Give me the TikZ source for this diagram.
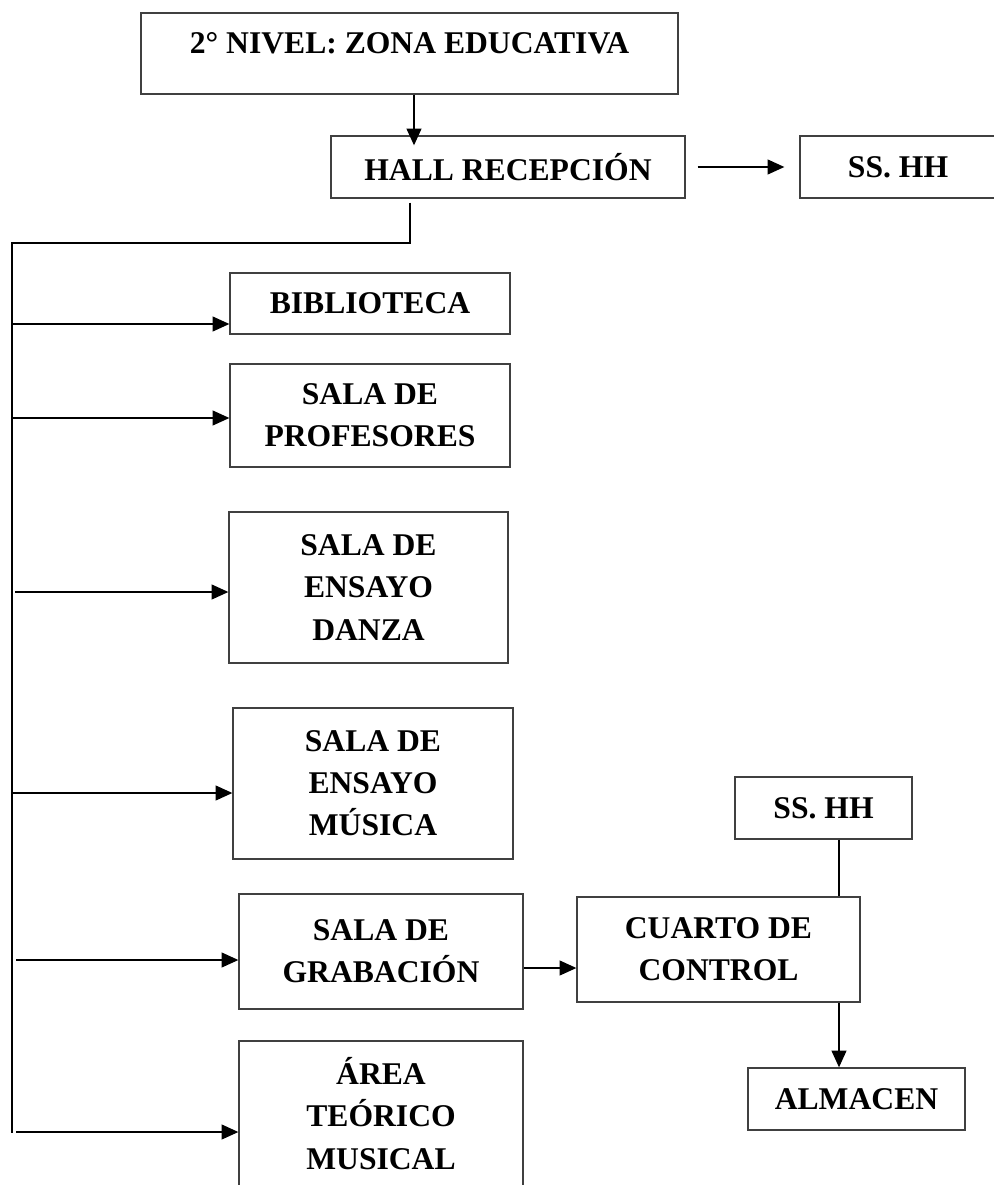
\documentclass[tikz,border=0pt]{standalone}
\usepackage{fontspec}
\setmainfont{Liberation Serif}
\usetikzlibrary{arrows.meta}

\begin{document}
\begin{tikzpicture}[
    x=0.02cm, y=-0.02cm,
    font=\fontsize{18}{24}\selectfont\bfseries,
    box/.style={
        rectangle, draw=black!75, line width=0.8pt,
        inner sep=0pt, align=center
    },
    smallBox/.style={box, minimum height=1.24cm},
    roomBox/.style={box, minimum width=5.6cm},
    link/.style={draw=black, line width=0.7pt},
    arrow/.style={link, -{Triangle[length=9.5pt,width=8.5pt]}}
]
    \useasboundingbox (0,0) rectangle (993,1185);

    % --- 1. Level and reception ---
    \node[box, minimum width=10.74cm, minimum height=1.62cm, text depth=11.5pt] (nivel) at (409.5,53.5) {2° NIVEL: ZONA EDUCATIVA};
    \node[smallBox, minimum width=7.08cm] (hall) at (508,167) {HALL RECEPCIÓN};
    \node[smallBox, minimum width=3.92cm] (sshhA) at (898,167) {SS. HH};

    % --- 2. Rooms along the trunk ---
    \node[roomBox, minimum height=1.22cm] (biblio) at (370,303.5) {BIBLIOTECA};
    \node[roomBox, minimum height=2.06cm] (prof) at (370,415.5) {SALA DE\\PROFESORES};
    \node[roomBox, minimum width=5.58cm, minimum height=3.02cm] (danza) at (368.5,587.5) {SALA DE\\ENSAYO\\DANZA};
    \node[roomBox, minimum height=3.02cm] (musica) at (373,783.5) {SALA DE\\ENSAYO\\MÚSICA};
    \node[roomBox, minimum width=5.68cm, minimum height=2.3cm] (grab) at (381,951.5) {SALA DE\\GRABACIÓN};
    \node[roomBox, minimum width=5.68cm, minimum height=2.9cm] (area) at (381,1113.5) {ÁREA\\TEÓRICO\\MUSICAL};

    % --- 3. Recording group ---
    \node[box, minimum width=5.66cm, minimum height=2.1cm] (cuarto) at (718.5,949.5) {CUARTO DE\\CONTROL};
    \node[smallBox, minimum width=3.54cm] (sshhB) at (823.5,808) {SS. HH};
    \node[smallBox, minimum width=4.34cm] (almacen) at (856.5,1099) {ALMACEN};

    % --- connectors ---
    \coordinate (mid) at (414,0);
    \coordinate (split) at (410,243);
    \coordinate (trunkTop) at (12,243);
    \coordinate (trunkEnd) at (12,1133);
    \coordinate (col) at (839,0);
    \coordinate (rec) at (0,968);

    \draw[arrow, shorten >=-0.2cm] (nivel.south -| mid) -- (hall.north -| mid);
    \draw[arrow, shorten <=0.24cm, shorten >=0.3cm] (hall.east) -- (sshhA.west);
    \draw[link, shorten <=0.08cm] (hall.south -| split) -- (split) -- (trunkTop) -- (trunkEnd);

    \foreach \ty/\tx/\room in {324/12/biblio, 418/12/prof, 592/15/danza, 793/12/musica, 960/16/grab, 1132/16/area} {
        \coordinate (t) at (\tx,\ty);
        \draw[arrow] (t) -- (t -| \room.west);
    }

    \draw[arrow] (grab.east |- rec) -- (cuarto.west |- rec);
    \draw[link] (sshhB.south -| col) -- (cuarto.north -| col);
    \draw[arrow] (cuarto.south -| col) -- (almacen.north -| col);
\end{tikzpicture}
\end{document}
